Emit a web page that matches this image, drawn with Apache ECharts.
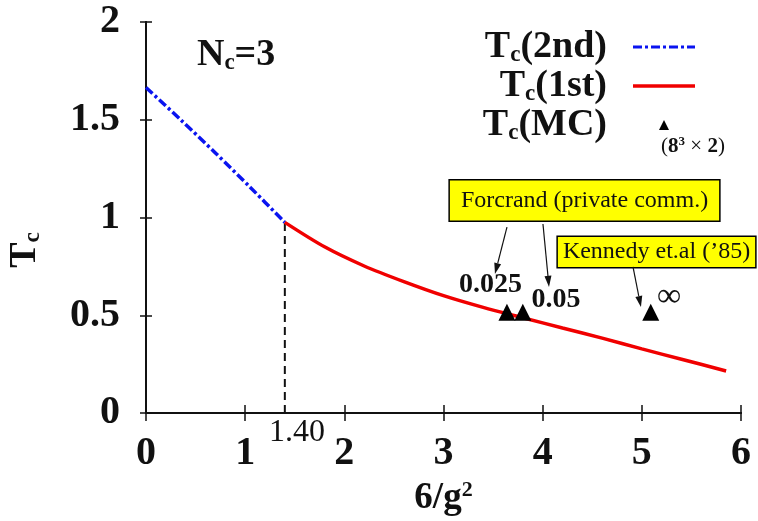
<!DOCTYPE html>
<html>
<head>
<meta charset="UTF-8">
<title></title>
<style>
  html, body { margin: 0; padding: 0; background: #fff; }
  #main { width: 758px; height: 521px; }
</style>
</head>
<body>
<div id="main"></div>
<script src="https://cdn.jsdelivr.net/npm/echarts@6/dist/echarts.min.js"></script>
<script>
// --- data ---
var blueX = [0, 0.35, 0.70, 1.05, 1.40];
var blueY = [1.665, 1.50, 1.33, 1.155, 0.975];
var redX = [1.40, 1.8, 2.2, 2.6, 3.0, 3.4, 3.8, 4.2, 4.6, 5.0, 5.4, 5.85];
var redY = [0.975, 0.85, 0.752, 0.672, 0.60, 0.54, 0.487, 0.435, 0.383, 0.328, 0.275, 0.215];
var mcX = [3.64, 3.80, 5.09];
var mcY = [0.515, 0.515, 0.515];
var mcLabels = ['0.025', '0.05', '∞'];
var gTrans = 1.40;
var tTrans = 0.975;
var xMin = 0, xMax = 6, xStep = 1;
var yMin = 0, yMax = 2, yStep = 0.5;

function pairs(xs, ys) {
  var out = [];
  for (var i = 0; i < xs.length; i++) out.push([xs[i], ys[i]]);
  return out;
}

var serif = 'Liberation Serif';
var black = '#111';
var blue = '#0a14f0';
var red = '#f00000';

// legend line samples as flat paths (line series would add a dot)
var solidIcon = 'path://M0,0H62V3.5H0Z';
var dashDotIcon = 'path://M0,0H9V3H0Z M12,0H15V3H12Z M18,0H27V3H18Z M30,0H33V3H30Z M36,0H45V3H36Z M48,0H51V3H48Z M54,0H62V3H54Z';

var legendRich = {
  b: { fontFamily: serif, fontWeight: 'bold', fontSize: 38, lineHeight: 40, color: black },
  s: { fontFamily: serif, fontWeight: 'bold', fontSize: 23, lineHeight: 4, verticalAlign: 'bottom', color: black },
  g: { width: 21 }
};

var chart = echarts.init(document.getElementById('main'));
var option = {
  animation: false,
  backgroundColor: '#fff',
  grid: { left: 146, right: 17, top: 22, bottom: 108, outerBoundsMode: 'none', containLabel: false },
  legend: {
    orient: 'vertical',
    right: 63,
    top: 28,
    align: 'right',
    padding: 0,
    itemGap: 0,
    itemWidth: 62,
    itemHeight: 10,
    selectedMode: false,
    data: [
      { name: '2nd', icon: dashDotIcon, itemStyle: { color: blue } },
      { name: '1st', icon: solidIcon, itemStyle: { color: red } },
      { name: 'MC', icon: 'path://M0,-1L1,1L-1,1Z' }
    ],
    formatter: function (name) {
      return '{b|T}{s|c}{b|(' + name + ')}{g| }';
    },
    textStyle: { rich: legendRich }
  },
  xAxis: [{
    type: 'value', min: xMin, max: xMax, interval: xStep,
    position: 'bottom',
    splitLine: { show: false },
    axisLine: { lineStyle: { color: black, width: 2 } },
    axisTick: { inside: true, length: 8, lineStyle: { color: black, width: 1.5 } },
    axisLabel: { margin: 21, color: black, fontFamily: serif, fontWeight: 'bold', fontSize: 40 },
    name: '{b|6/g}{p|2}',
    nameLocation: 'middle',
    nameGap: 63,
    nameTextStyle: {
      rich: {
        b: { fontFamily: serif, fontWeight: 'bold', fontSize: 37, lineHeight: 40, color: black },
        p: { fontFamily: serif, fontWeight: 'bold', fontSize: 22, lineHeight: 22, verticalAlign: 'top', color: black }
      }
    }
  }, {
    type: 'value', min: xMin, max: xMax, interval: xStep,
    position: 'top',
    splitLine: { show: false },
    axisLine: { lineStyle: { color: black, width: 2 } },
    axisTick: { inside: true, length: 8, lineStyle: { color: black, width: 1.5 } },
    axisLabel: { show: false }
  }],
  yAxis: [{
    type: 'value', min: yMin, max: yMax, interval: yStep,
    position: 'left',
    splitLine: { show: false },
    axisLine: { show: true, lineStyle: { color: black, width: 2 } },
    axisTick: { show: true, inside: true, length: 6, lineStyle: { color: black, width: 1.5 } },
    axisLabel: { margin: 26, color: black, fontFamily: serif, fontWeight: 'bold', fontSize: 40,
      padding: [10, 0, 0, 0] }
  }, {
    type: 'value', min: yMin, max: yMax, interval: yStep,
    position: 'right',
    splitLine: { show: false },
    axisLine: { show: true, lineStyle: { color: black, width: 2 } },
    axisTick: { show: true, inside: true, length: 6, lineStyle: { color: black, width: 1.5 } },
    axisLabel: { show: false }
  }],
  series: [{
    name: 'transition',
    type: 'line',
    data: pairs([gTrans, gTrans], [yMin, tTrans]),
    symbol: 'none',
    lineStyle: { color: black, width: 2, type: [8, 5] },
    z: 2
  }, {
    name: '2nd',
    type: 'line',
    data: pairs(blueX, blueY),
    smooth: 0.3,
    symbol: 'none',
    itemStyle: { color: blue },
    lineStyle: { color: blue, width: 3.5, type: [9, 3, 3, 3] },
    z: 3
  }, {
    name: '1st',
    type: 'line',
    data: pairs(redX, redY),
    smooth: 0.3,
    symbol: 'none',
    itemStyle: { color: red },
    lineStyle: { color: red, width: 3.5 },
    z: 3
  }, {
    name: 'MC',
    type: 'scatter',
    data: pairs(mcX, mcY),
    symbol: 'triangle',
    symbolSize: 17,
    itemStyle: { color: '#000', opacity: 1 },
    z: 5
  }]
};
chart.setOption(option);

// --- annotations, placed in data coordinates ---
function P(x, y) { return chart.convertToPixel({ gridIndex: 0 }, [x, y]); }

function txt(x, y, text, style, extra) {
  var p = P(x, y);
  var s = Object.assign({ text: text, align: 'center', verticalAlign: 'middle',
    textAlign: 'center', textVerticalAlign: 'middle', fill: black }, style);
  var el = { type: 'text', x: p[0], y: p[1], style: s, z: 20 };
  if (extra) Object.assign(el, extra);
  return el;
}

function arrow(x0, y0, x1, y1) {
  var a = P(x0, y0), b = P(x1, y1);
  var ang = Math.atan2(b[1] - a[1], b[0] - a[0]);
  var L = 11, W = 3.5;
  var bx = b[0] - L * Math.cos(ang), by = b[1] - L * Math.sin(ang);
  var nx = -Math.sin(ang) * W, ny = Math.cos(ang) * W;
  return [{
    type: 'line', z: 20,
    shape: { x1: a[0], y1: a[1], x2: bx, y2: by },
    style: { stroke: black, lineWidth: 1.2 }
  }, {
    type: 'polygon', z: 20,
    shape: { points: [[b[0], b[1]], [bx + nx, by + ny], [bx - nx, by - ny]] },
    style: { fill: black }
  }];
}

var boldRich = {
  b: { fontFamily: serif, fontWeight: 'bold', fontSize: 38, lineHeight: 40, color: black },
  s: { fontFamily: serif, fontWeight: 'bold', fontSize: 23, lineHeight: 4, verticalAlign: 'bottom', color: black }
};
var noteRich = {
  n: { fontFamily: serif, fontWeight: 'bold', fontSize: 21, lineHeight: 24, color: black },
  r: { fontFamily: serif, fontSize: 21, lineHeight: 24, color: black },
  p: { fontFamily: serif, fontWeight: 'bold', fontSize: 13, lineHeight: 13, verticalAlign: 'top', color: black }
};
var boxStyle = {
  fontFamily: serif, fontSize: 24, fill: black,
  backgroundColor: '#ffff00', borderColor: '#000', borderWidth: 1.5
};

var elements = [
  txt(0.514, 1.831, '{b|N}{s|c}{b|=3}', { rich: boldRich, align: 'left', textAlign: 'left' }),
  txt(5.516, 1.361, '{r|(}{n|8}{p|3}{r| × }{n|2}{r|)}', { rich: noteRich }),
  txt(-1.22, 0.834, '{b|T}{s|c}', { rich: boldRich }, { rotation: Math.PI / 2 }),
  txt(gTrans + 0.123, -0.1, '1.40', { fontFamily: serif, fontSize: 32 }),
  txt(4.422, 1.087, 'Forcrand (private comm.)', Object.assign({ padding: [8, 11, 8, 11] }, boxStyle)),
  txt(5.148, 0.824, 'Kennedy et.al (’85)', Object.assign({ padding: [3, 5, 3, 5] }, boxStyle)),
  txt(3.474, 0.655, mcLabels[0], { fontFamily: serif, fontWeight: 'bold', fontSize: 28 }),
  txt(4.134, 0.578, mcLabels[1], { fontFamily: serif, fontWeight: 'bold', fontSize: 28 }),
  txt(5.274, 0.595, mcLabels[2], { fontFamily: serif, fontSize: 34 })
];
elements = elements
  .concat(arrow(3.640, 0.951, 3.519, 0.711))
  .concat(arrow(4.003, 0.967, 4.064, 0.645))
  .concat(arrow(4.911, 0.747, 4.991, 0.542));

chart.setOption({ graphic: { elements: elements } });
</script>
</body>
</html>
